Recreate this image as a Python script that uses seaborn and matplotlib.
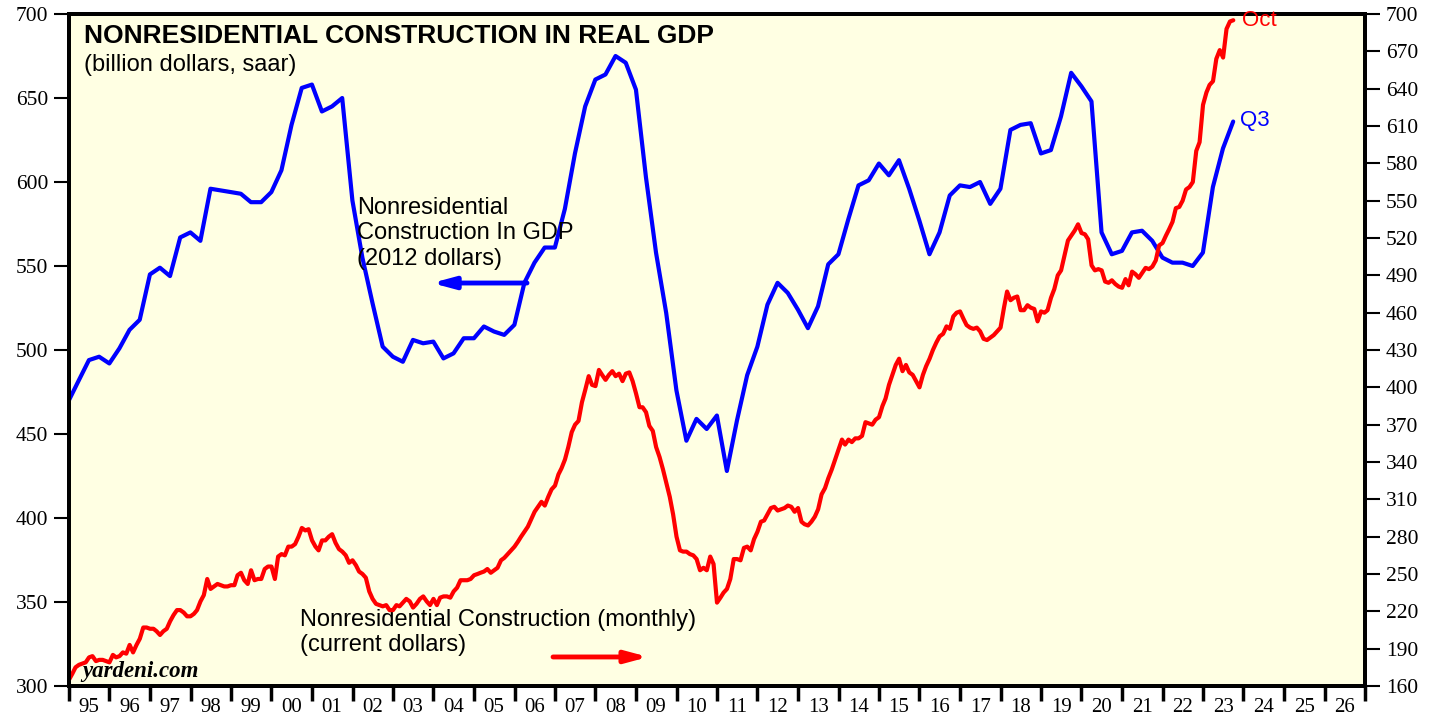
import numpy as np
import pandas as pd
import matplotlib
matplotlib.use("Agg")
import matplotlib.pyplot as plt
import matplotlib.dates as mdates
import matplotlib.ticker as mticker
import seaborn as sns

# Real nonresidential construction in GDP (2012 dollars), quarterly, 1994Q4 .. 2023Q3
gdp_quarterly = [470,
    482, 494, 496, 492,
    501, 512, 518, 545,
    549, 544, 567, 570,
    565, 596, 595, 594,
    593, 588, 588, 594,
    607, 634, 656, 658,
    642, 645, 650, 589,
    555, 528, 502, 496,
    493, 506, 504, 505,
    495, 498, 507, 507,
    514, 511, 509, 515,
    540, 552, 561, 561,
    584, 617, 645, 661,
    664, 675, 671, 655,
    603, 558, 522, 476,
    446, 459, 453, 461,
    428, 458, 485, 502,
    527, 540, 534, 524,
    513, 526, 551, 557,
    578, 598, 601, 611,
    604, 613, 596, 577,
    557, 570, 592, 598,
    597, 600, 587, 596,
    631, 634, 635, 617,
    619, 639, 665, 657,
    648, 570, 557, 559,
    570, 571, 565, 555,
    552, 552, 550, 558,
    597, 620, 636]

# Nonresidential construction spending (current dollars), monthly, Jan 1995 .. Oct 2023
spending_monthly = [
    165, 170, 175, 177, 178, 179, 183, 184, 180, 181, 181, 180,  # 1995
    179, 185, 183, 184, 187, 186, 193, 187, 193, 198, 207, 207,  # 1996
    206, 206, 204, 201, 204, 206, 212, 217, 221, 221, 219, 216,  # 1997
    216, 218, 221, 228, 233, 246, 238, 240, 242, 241, 240, 240,  # 1998
    241, 241, 249, 251, 245, 242, 253, 245, 246, 246, 254, 256,  # 1999
    256, 246, 264, 266, 265, 272, 272, 274, 280, 287, 285, 286,  # 2000
    277, 272, 269, 277, 277, 280, 282, 275, 270, 268, 265, 259,  # 2001
    261, 257, 252, 250, 247, 236, 230, 226, 225, 224, 225, 221,  # 2002
    221, 225, 224, 227, 230, 228, 223, 226, 230, 232, 228, 225,  # 2003
    230, 225, 231, 232, 232, 231, 236, 239, 245, 245, 245, 246,  # 2004
    249, 250, 251, 252, 254, 251, 253, 255, 261, 263, 266, 269,  # 2005
    272, 276, 280, 284, 288, 294, 300, 304, 308, 305, 312, 318,  # 2006
    321, 330, 335, 342, 352, 364, 370, 373, 388, 398, 409, 402,  # 2007
    401, 414, 410, 406, 410, 413, 409, 411, 405, 411, 412, 405,  # 2008
    395, 384, 384, 380, 369, 365, 352, 344, 334, 323, 312, 298,  # 2009
    280, 269, 268, 268, 266, 265, 262, 253, 255, 253, 264, 258,  # 2010
    227, 231, 235, 238, 246, 262, 262, 261, 271, 272, 269, 278,  # 2011
    284, 292, 293, 298, 303, 304, 301, 302, 303, 305, 304, 300,  # 2012
    303, 292, 290, 289, 292, 296, 302, 314, 319, 327, 334, 342,  # 2013
    350, 358, 354, 358, 356, 359, 359, 361, 372, 371, 370, 374,  # 2014
    376, 385, 391, 402, 410, 418, 423, 413, 418, 412, 410, 405,  # 2015
    400, 410, 417, 423, 430, 436, 441, 443, 449, 447, 457, 460,  # 2016
    461, 455, 450, 448, 447, 448, 445, 439, 438, 440, 442, 445,  # 2017
    448, 464, 477, 470, 472, 473, 462, 462, 466, 464, 463, 453,  # 2018
    461, 460, 462, 472, 479, 490, 494, 506, 518, 522, 526, 531,  # 2019
    524, 523, 519, 498, 494, 495, 494, 485, 484, 486, 483, 481,  # 2020
    480, 487, 482, 493, 491, 488, 492, 496, 495, 497, 502, 514,  # 2021
    516, 522, 527, 533, 544, 545, 550, 559, 561, 565, 590, 597,  # 2022
    627, 637, 643, 646, 664, 671, 665, 688, 694, 695]            # 2023

quarters = pd.date_range("1994-12-31", periods=len(gdp_quarterly), freq="QE")
months = pd.date_range("1995-01-01", periods=len(spending_monthly), freq="MS")

left_ticks = list(range(300, 701, 50))
right_ticks = list(range(160, 701, 30))

sns.set_style("ticks")
plt.rcParams['font.family'] = ['Liberation Sans', 'DejaVu Sans']
plt.rcParams['text.color'] = 'black'
plt.rcParams['xtick.color'] = 'black'
plt.rcParams['ytick.color'] = 'black'
serif = ['Liberation Serif', 'DejaVu Serif']

fig = plt.figure(figsize=(14.46, 7.19), dpi=100)
ax = fig.add_axes([0.0477, 0.0459, 0.8963, 0.9346])
ax.set_facecolor('#FFFFE3')
ax2 = ax.twinx()

sns.lineplot(x=quarters, y=gdp_quarterly, ax=ax, color='#0000FF', linewidth=3, legend=False)
sns.lineplot(x=months, y=spending_monthly, ax=ax2, color='#FF0000', linewidth=3, legend=False)

# axes ranges and ticks
ax.set_xlim(pd.Timestamp("1995-01-01"), pd.Timestamp("2027-01-01"))
ax.set_ylim(300, 700)
ax2.set_ylim(160, 700)
ax.set_yticks(left_ticks)
ax2.set_yticks(right_ticks)
ax.set_xlabel("")
ax.set_ylabel("")
ax2.set_ylabel("")

ax.xaxis.set_major_locator(mdates.YearLocator(1))
ax.xaxis.set_major_formatter(mticker.NullFormatter())
ax.xaxis.set_minor_locator(mdates.MonthLocator(bymonth=7, bymonthday=1))
ax.xaxis.set_minor_formatter(mdates.DateFormatter("%y"))

ax.tick_params(axis='x', which='major', direction='out', length=11, width=2.5, color='black')
ax.tick_params(axis='x', which='minor', length=0, pad=9, labelsize=15, labelcolor='black')
ax.tick_params(axis='y', direction='out', length=11, width=1.5, pad=4, labelsize=15.5, labelcolor='black')
ax2.tick_params(axis='y', direction='out', length=11, width=1.5, pad=4, labelsize=15.5, labelcolor='black')

for lbl in ax.get_yticklabels() + ax2.get_yticklabels() + ax.get_xticklabels(minor=True):
    lbl.set_fontfamily(serif)

for a in (ax, ax2):
    for sp in a.spines.values():
        sp.set_visible(True)
        sp.set_linewidth(2.8)
        sp.set_color('black')

# titles and notes
ax.text(0.0116, 0.9568, "NONRESIDENTIAL CONSTRUCTION IN REAL GDP", transform=ax.transAxes,
        fontsize=19, fontweight='bold', va='baseline', ha='left', color='black')
ax.text(0.0116, 0.9152, "(billion dollars, saar)", transform=ax.transAxes,
        fontsize=17, va='baseline', ha='left', color='black')

ax.text(0.2222, 0.7277, "Nonresidential\nConstruction In GDP\n(2012 dollars)", transform=ax.transAxes,
        fontsize=17, va='top', ha='left', linespacing=1.2, color='black')
ax.annotate("", xy=(0.2800, 0.5997), xytext=(0.3534, 0.5997), xycoords='axes fraction',
            arrowprops=dict(arrowstyle='-|>,head_length=1.3,head_width=0.35', color='#0000FF',
                            lw=3.5, shrinkA=0, shrinkB=0))

ax.text(0.1782, 0.1146, "Nonresidential Construction (monthly)\n(current dollars)", transform=ax.transAxes,
        fontsize=17, va='top', ha='left', linespacing=1.2, color='black')
ax.annotate("", xy=(0.4470, 0.0432), xytext=(0.3735, 0.0432), xycoords='axes fraction',
            arrowprops=dict(arrowstyle='-|>,head_length=1.3,head_width=0.35', color='#FF0000',
                            lw=3.5, shrinkA=0, shrinkB=0))

ax.text(0.010, 0.0134, "yardeni.com", transform=ax.transAxes, fontsize=16.5,
        fontweight='bold', fontstyle='italic', family=serif, va='baseline', ha='left', color='black')

ax2.annotate("Oct", xy=(months[-1], spending_monthly[-1]), xytext=(6, 0), textcoords='offset points',
             color='#FF0000', fontsize=16, va='center', ha='left')
ax.annotate("Q3", xy=(quarters[-1], gdp_quarterly[-1]), xytext=(5, 1), textcoords='offset points',
            color='#0000FF', fontsize=16, va='center', ha='left')

plt.savefig("out.png", dpi=100)
